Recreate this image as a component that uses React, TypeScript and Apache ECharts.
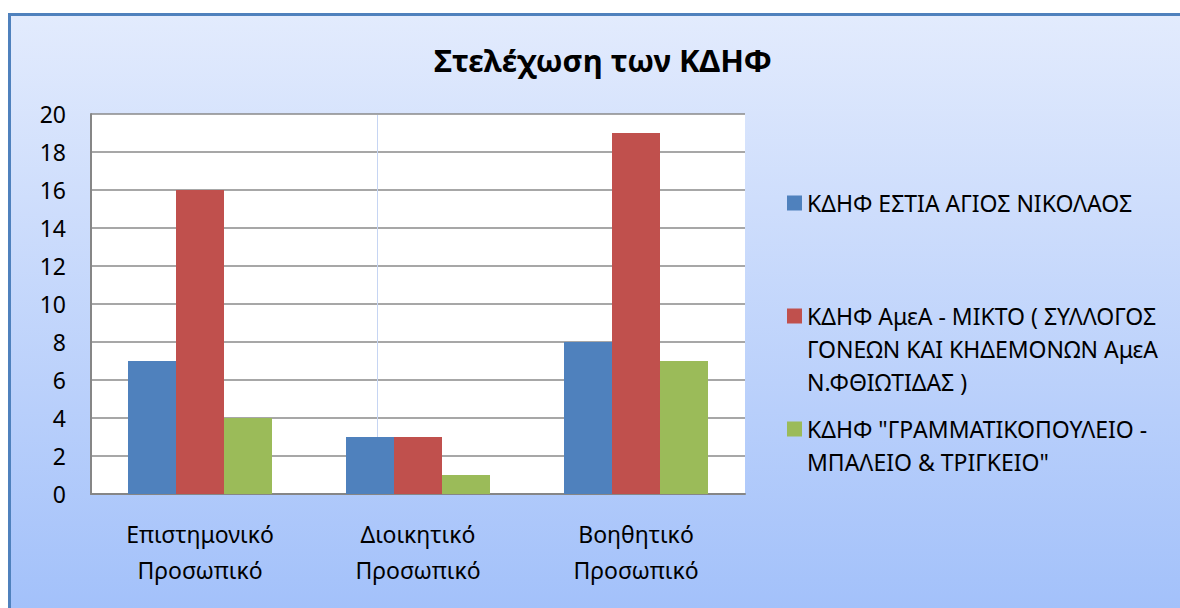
import React, { useEffect, useRef } from "react";
import * as echarts from "echarts";

const TITLE = "Στελέχωση των ΚΔΗΦ";
const CATEGORIES = ["Επιστημονικό\nΠροσωπικό", "Διοικητικό\nΠροσωπικό", "Βοηθητικό\nΠροσωπικό"];
const SERIES_NAMES = [
  "ΚΔΗΦ ΕΣΤΙΑ ΑΓΙΟΣ ΝΙΚΟΛΑΟΣ",
  "ΚΔΗΦ ΑμεΑ - ΜΙΚΤΟ ( ΣΥΛΛΟΓΟΣ ΓΟΝΕΩΝ ΚΑΙ ΚΗΔΕΜΟΝΩΝ ΑμεΑ Ν.ΦΘΙΩΤΙΔΑΣ )",
  "ΚΔΗΦ \"ΓΡΑΜΜΑΤΙΚΟΠΟΥΛΕΙΟ - ΜΠΑΛΕΙΟ & ΤΡΙΓΚΕΙΟ\"",
];
const LEGEND_LABELS = [
  "ΚΔΗΦ ΕΣΤΙΑ ΑΓΙΟΣ ΝΙΚΟΛΑΟΣ",
  "ΚΔΗΦ ΑμεΑ - ΜΙΚΤΟ ( ΣΥΛΛΟΓΟΣ\nΓΟΝΕΩΝ ΚΑΙ ΚΗΔΕΜΟΝΩΝ ΑμεΑ\nΝ.ΦΘΙΩΤΙΔΑΣ )",
  "ΚΔΗΦ \"ΓΡΑΜΜΑΤΙΚΟΠΟΥΛΕΙΟ -\nΜΠΑΛΕΙΟ & ΤΡΙΓΚΕΙΟ\"",
];
const ESTIA = [7, 3, 8];
const AMEA = [16, 3, 19];
const GRAMMATIKOPOULEIO = [4, 1, 7];
const Y_MIN = 0;
const Y_MAX = 20;
const Y_STEP = 2;

const COLORS = ["#4f81bd", "#c0504d", "#9bbb59"];
const FONT = "'Noto Sans', 'DejaVu Sans', sans-serif";
const LINE_H = 33;
const FONT_SIZE = 23;

export default function App() {
  const ref = useRef<HTMLDivElement>(null);

  useEffect(() => {
    if (!ref.current) return;
    const chart = echarts.init(ref.current, null, { renderer: "svg" });
    const seriesData = [ESTIA, AMEA, GRAMMATIKOPOULEIO];
    const firstLineCenters = [203, 316, 429];

    const legends = SERIES_NAMES.map((name, i) => {
      const lines = LEGEND_LABELS[i].split("\n").length;
      const total = 2 * lines - 1;
      // leading blank lines keep the icon level with the first text line
      const label = "\n".repeat(lines - 1) + LEGEND_LABELS[i];
      return {
        data: [name],
        orient: "vertical",
        left: 787,
        top: firstLineCenters[i] - (total * LINE_H) / 2,
        padding: 0,
        itemWidth: 15,
        itemHeight: 15,
        icon: "rect",
        selectedMode: false,
        formatter: () => label,
        textStyle: {
          color: "#000",
          fontFamily: FONT,
          fontSize: FONT_SIZE,
          lineHeight: LINE_H,
        },
      };
    });

    chart.setOption({
      animation: false,
      backgroundColor: new echarts.graphic.LinearGradient(0, 0, 0, 1, [
        { offset: 0, color: "#e4ecfd" },
        { offset: 1, color: "#a3c1fa" },
      ]),
      title: {
        text: TITLE,
        left: 434,
        top: 38,
        padding: 0,
        textStyle: {
          fontFamily: FONT,
          fontWeight: "bold",
          fontSize: 31,
          lineHeight: 44,
          color: "#000",
        },
      },
      legend: legends,
      grid: {
        left: 91,
        top: 114,
        right: 435,
        bottom: 114,
        show: true,
        backgroundColor: "#ffffff",
        borderWidth: 0,
        containLabel: false,
      },
      xAxis: {
        type: "category",
        data: CATEGORIES,
        axisLine: { show: true, lineStyle: { color: "#868686", width: 2 } },
        axisTick: { show: false },
        axisLabel: {
          color: "#000",
          fontFamily: FONT,
          fontSize: FONT_SIZE,
          lineHeight: 36,
          margin: 22,
        },
      },
      yAxis: {
        type: "value",
        min: Y_MIN,
        max: Y_MAX,
        interval: Y_STEP,
        axisLine: { show: true, lineStyle: { color: "#868686", width: 2 } },
        axisTick: { show: false },
        splitLine: { show: true, lineStyle: { color: "#8a8a8a", width: 1.6 } },
        axisLabel: {
          color: "#000",
          fontFamily: FONT,
          fontSize: 23,
          margin: 25,
        },
      },
      graphic: [
        { type: "rect", z: 100, shape: { x: 0, y: 0, width: 1180, height: 13 }, style: { fill: "#ffffff" } },
        { type: "rect", z: 100, shape: { x: 0, y: 0, width: 8, height: 608 }, style: { fill: "#ffffff" } },
        { type: "rect", z: 101, shape: { x: 8, y: 13, width: 1172, height: 3 }, style: { fill: "#4f81bd" } },
        { type: "rect", z: 101, shape: { x: 8, y: 13, width: 3, height: 595 }, style: { fill: "#4f81bd" } },
        { type: "line", z: 1, shape: { x1: 377.5, y1: 115, x2: 377.5, y2: 493 }, style: { stroke: "#c6d5f3", lineWidth: 1 } },
      ],
      series: SERIES_NAMES.map((name, i) => ({
        name,
        type: "bar",
        data: seriesData[i],
        barWidth: 48,
        barGap: "0%",
        itemStyle: { color: COLORS[i] },
        z: 3,
      })),
    });
    return () => chart.dispose();
  }, []);

  return (
    <div
      ref={ref}
      style={{ position: "fixed", left: 0, top: 0, width: 1180, height: 608 }}
    />
  );
}
